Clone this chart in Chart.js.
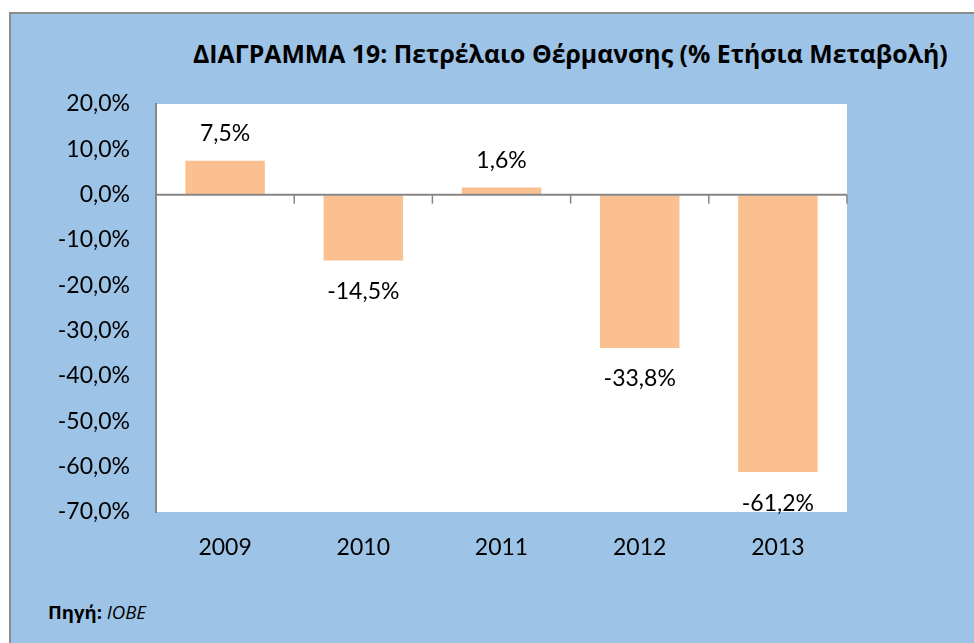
<!DOCTYPE html>
<html>
<head>
<meta charset="utf-8">
<script src="https://cdn.jsdelivr.net/npm/chart.js@4"></script>
<style>
  html, body { margin: 0; padding: 0; width: 974px; height: 643px; overflow: hidden; background: #ffffff; }
  #frame { position: absolute; left: 9px; top: 12px; width: 1000px; height: 700px;
           border-left: 2px solid #8c8c8c; border-top: 2px solid #8c8c8c; background: #9dc3e6; }
  #title { position: absolute; left: 193px; top: 54px; transform: translateY(-50%);
           font-family: "Open Sans", sans-serif; font-weight: bold;
           font-size: 22px; line-height: 1.2; color: #000; white-space: nowrap; }
  #source { position: absolute; left: 48px; top: 612px; transform: translateY(-50%);
            font-family: "Open Sans", sans-serif; font-size: 15px;
            line-height: 1.2; color: #000; white-space: nowrap; }
  #c { position: absolute; left: 0; top: 0; }
</style>
</head>
<body>
<div id="frame"></div>
<div id="title">ΔΙΑΓΡΑΜΜΑ 19: Πετρέλαιο Θέρμανσης (% Ετήσια Μεταβολή)</div>
<div id="source"><b>Πηγή:</b> <i>IOBE</i></div>
<canvas id="c" width="974" height="643"></canvas>
<script>
const categories = ["2009", "2010", "2011", "2012", "2013"];
const changePct = [7.5, -14.5, 1.6, -33.8, -61.2];
const yTicks = [20, 10, 0, -10, -20, -30, -40, -50, -60, -70];

const fmt = v => v.toFixed(1).replace('.', ',') + '%';
const FONT = { family: 'Lato, sans-serif', size: 23 };
const AXIS_GRAY = '#868686';

// scale text blocks so they span the widths seen in the reference
function fitWidth(el, target) {
  const w = el.getBoundingClientRect().width;
  const fs = parseFloat(getComputedStyle(el).fontSize);
  el.style.fontSize = (fs * target / w) + 'px';
}
fitWidth(document.getElementById('title'), 755);
fitWidth(document.getElementById('source'), 98);

const plotBg = {
  id: 'plotBg',
  beforeDraw(chart) {
    const { ctx, chartArea: a } = chart;
    ctx.save();
    ctx.fillStyle = '#ffffff';
    ctx.fillRect(a.left, a.top, a.right - a.left, a.bottom - a.top);
    ctx.restore();
  }
};

const zeroTicks = {
  id: 'zeroTicks',
  afterDatasetsDraw(chart) {
    const { ctx, chartArea } = chart;
    const x = chart.scales.x, y = chart.scales.y;
    const y0 = y.getPixelForValue(0);
    ctx.save();
    ctx.strokeStyle = AXIS_GRAY;
    ctx.lineWidth = 2;
    ctx.beginPath();
    ctx.moveTo(chartArea.left, y0);
    ctx.lineTo(chartArea.right, y0);
    ctx.stroke();
    ctx.lineWidth = 1.5;
    const n = categories.length;
    for (let i = 0; i <= n; i++) {
      const px = x.getPixelForDecimal(i / n);
      ctx.beginPath();
      ctx.moveTo(px, y0);
      ctx.lineTo(px, y0 + 9);
      ctx.stroke();
    }
    ctx.restore();
  }
};

const valueLabels = {
  id: 'valueLabels',
  afterDatasetsDraw(chart) {
    const { ctx } = chart;
    const meta = chart.getDatasetMeta(0);
    ctx.save();
    ctx.font = `${FONT.size}px ${FONT.family}`;
    ctx.fillStyle = '#000';
    ctx.textAlign = 'center';
    ctx.textBaseline = 'middle';
    meta.data.forEach((bar, i) => {
      const v = changePct[i];
      const ty = v >= 0 ? bar.y - 27 : bar.y + 31;
      ctx.fillText(fmt(v), bar.x, ty);
    });
    ctx.restore();
  }
};

new Chart(document.getElementById('c'), {
  type: 'bar',
  data: {
    labels: categories,
    datasets: [{
      data: changePct,
      backgroundColor: '#fac090',
      borderWidth: 0,
      categoryPercentage: 1,
      barPercentage: 0.575
    }]
  },
  options: {
    responsive: false,
    animation: false,
    layout: { padding: { left: 16, top: 104, right: 127, bottom: 51 } },
    plugins: { legend: { display: false }, tooltip: { enabled: false }, title: { display: false } },
    scales: {
      x: {
        grid: { display: false, drawTicks: false },
        border: { display: false },
        ticks: { font: FONT, color: '#000', padding: 22 },
        afterFit(s) { s.height = 80; }
      },
      y: {
        min: -70, max: 20,
        afterBuildTicks(s) { s.ticks = yTicks.map(v => ({ value: v })); },
        ticks: { font: FONT, color: '#000', padding: 26, callback: v => fmt(v) },
        grid: { drawTicks: false, color: 'transparent' },
        border: { display: true, color: AXIS_GRAY, width: 2 },
        afterFit(s) { s.width = 140; }
      }
    }
  },
  plugins: [plotBg, zeroTicks, valueLabels]
});
</script>
</body>
</html>
